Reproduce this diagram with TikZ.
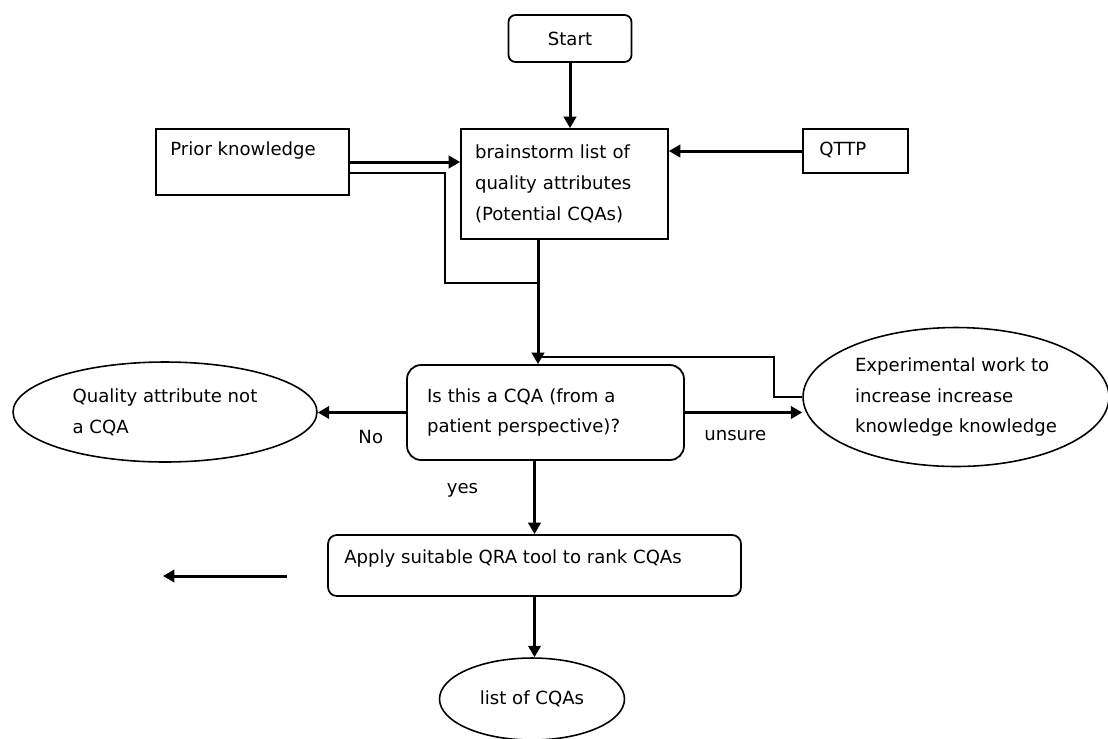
\documentclass[tikz,border=0pt]{standalone}
\usepackage{fontspec}
\setmainfont{DejaVu Sans}
\usetikzlibrary{shapes.geometric,arrows.meta}

\tikzset{
  box/.style={draw,line width=1pt,inner sep=0pt},
  rbox/.style={box,rounded corners=5pt},
  oval/.style={draw,line width=0.9pt,ellipse,inner sep=0pt,align=left},
  txt/.style={inner sep=0pt,anchor=west},
  lbl/.style={inner sep=0pt},
  flow/.style={line width=1.7pt,-{Triangle[length=6.5pt,width=7pt]}},
  thinline/.style={line width=1pt}
}

\begin{document}
\begin{tikzpicture}[x=0.02cm,y=-0.02cm,font=\fontsize{10.3pt}{17.5pt}\selectfont]
\useasboundingbox (0,0) rectangle (1108,738);
%
\node[rbox,rounded corners=4pt,minimum width=2.46cm,minimum height=0.94cm] (start) at (570,38.5) {Start};
\node[box,minimum width=3.86cm,minimum height=1.32cm] (prior) at (252.5,162) {};
\node[txt] (priortxt) at (170,151) {Prior knowledge};
\node[box,minimum width=4.14cm,minimum height=2.2cm,text width=3.58cm,align=left] (brain) at (564.5,184) {brainstorm list of\\quality attributes\\(Potential CQAs)};
\node[box,minimum width=2.1cm,minimum height=0.88cm] (qttp) at (855.5,151) {};
\node[txt] (qttptxt) at (819,150) {QTTP};
%
\coordinate (spine) at (538,283);
\coordinate (fb) at (538,357);
%
\node[rbox,rounded corners=8pt,minimum width=5.54cm,minimum height=1.9cm,text width=4.74cm,align=left] (dec) at (545.5,412.5) {Is this a CQA (from a\\patient perspective)?};
\node[oval,minimum width=6.08cm,minimum height=2cm] (notcqa) at (165,412) {Quality attribute not\\a CQA};
\node[oval,minimum width=6.12cm,minimum height=2.78cm] (exper) at (956,397) {Experimental work to\\increase increase\\knowledge knowledge};
%
\node[rbox,minimum width=8.26cm,minimum height=1.22cm] (qra) at (534.5,565.5) {};
\node[txt] (qratxt) at (344,558) {Apply suitable QRA tool to rank CQAs};
\node[oval,minimum width=3.7cm,minimum height=1.64cm] (list) at (532,699) {list of CQAs};
%
% arrows into the brainstorm box
\draw[flow] (start.south) -- (start.south |- brain.north);
\draw[flow] (prior.east) -- (prior.east -| brain.west);
\draw[flow] (qttp.west) -- (qttp.west -| brain.east);
\draw[thinline] ([yshift=-6.2pt]prior.east) -- ++(95,0) |- (spine);
\draw[flow] (brain.south -| spine) -- (dec.north -| spine);
\draw[thinline] (exper.west) -- ++(-28,0) |- (fb);
%
% decision
\draw[flow] (dec.west) -- (dec.west -| notcqa.east) node[lbl,pos=0.4,yshift=-14pt] (no) {No};
\draw[flow] (dec.east) -- (dec.east -| exper.west) node[lbl,pos=0.43,yshift=-13pt] (unsure) {unsure};
\draw[flow] (dec.south -| qra.north) -- (qra.north) node[lbl,pos=0.4,xshift=-41pt] (yes) {yes};
\draw[flow] (qra.south) -- (qra.south |- list.north);
%
\coordinate (s1) at (287,576);
\coordinate (s2) at (163,576);
\draw[flow] (s1) -- (s2);
\end{tikzpicture}
\end{document}
